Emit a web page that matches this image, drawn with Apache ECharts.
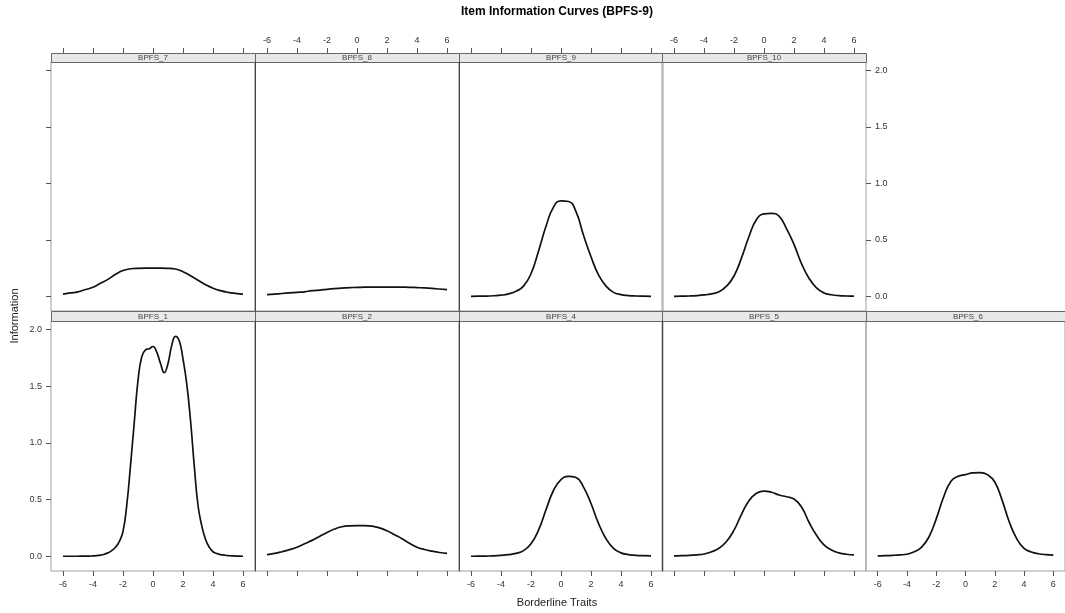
<!DOCTYPE html>
<html>
<head>
<meta charset="utf-8">
<title>Item Information Curves (BPFS-9)</title>
<script src="https://cdn.jsdelivr.net/npm/echarts@6/dist/echarts.min.js"></script>
<style>
  html, body { margin: 0; padding: 0; background: #fff; }
  #chart { width: 1065px; height: 613px; }
</style>
</head>
<body>
<div id="chart"></div>
<script>
// trait values, step 0.5 (BPFS_1 uses a finer 0.25 grid because of its two peaks)
var theta = [-6,-5.5,-5,-4.5,-4,-3.5,-3,-2.5,-2,-1.5,-1,-0.5,0,0.5,1,1.5,2,2.5,3,3.5,4,4.5,5,5.5,6];
var theta1 = [-6,-5.75,-5.5,-5.25,-5,-4.75,-4.5,-4.25,-4,-3.75,-3.5,-3.25,-3,-2.75,-2.5,-2.25,-2,-1.75,-1.5,-1.25,-1,-0.75,-0.5,-0.25,
              0,0.25,0.5,0.75,1,1.25,1.5,1.75,2,2.25,2.5,2.75,3,3.25,3.5,3.75,4,4.25,4.5,4.75,5,5.25,5.5,5.75,6];

// item information
var bpfs1 = [0,0,0,0,0,0.001,0.001,0.002,0.003,0.005,0.01,0.018,0.03,0.05,0.08,0.13,0.22,0.45,0.8,1.18,1.55,1.76,1.82,1.83,
             1.85,1.8,1.7,1.62,1.7,1.86,1.94,1.9,1.74,1.52,1.2,0.8,0.45,0.27,0.15,0.08,0.04,0.025,0.015,0.01,0.006,0.004,0.002,0.001,0];
var bpfs2 = [0.015,0.025,0.04,0.058,0.08,0.11,0.14,0.175,0.21,0.24,0.26,0.268,0.27,0.27,0.265,0.25,0.225,0.19,0.155,0.115,0.08,0.06,0.045,0.033,0.025];
var bpfs4 = [0,0.001,0.002,0.004,0.008,0.014,0.025,0.05,0.11,0.23,0.41,0.58,0.675,0.705,0.695,0.61,0.465,0.29,0.155,0.07,0.03,0.015,0.008,0.005,0.004];
var bpfs5 = [0.003,0.005,0.008,0.013,0.02,0.04,0.07,0.13,0.23,0.37,0.49,0.555,0.575,0.565,0.54,0.525,0.505,0.435,0.3,0.185,0.1,0.055,0.03,0.018,0.012];
var bpfs6 = [0.003,0.005,0.008,0.012,0.018,0.04,0.08,0.17,0.33,0.52,0.66,0.705,0.72,0.735,0.738,0.72,0.655,0.495,0.3,0.155,0.07,0.038,0.022,0.014,0.01];
var bpfs7 = [0.02,0.03,0.04,0.06,0.08,0.115,0.15,0.195,0.228,0.244,0.248,0.249,0.249,0.249,0.248,0.242,0.218,0.182,0.142,0.103,0.072,0.05,0.035,0.026,0.02];
var bpfs8 = [0.015,0.02,0.025,0.03,0.035,0.04,0.05,0.055,0.062,0.068,0.073,0.077,0.079,0.081,0.082,0.082,0.082,0.082,0.081,0.08,0.077,0.074,0.07,0.065,0.06];
var bpfs9 = [0,0.001,0.002,0.005,0.01,0.022,0.045,0.09,0.2,0.4,0.62,0.79,0.845,0.84,0.75,0.54,0.35,0.19,0.09,0.035,0.015,0.007,0.003,0.001,0];
var bpfs10 = [0,0.001,0.003,0.006,0.012,0.022,0.04,0.09,0.18,0.34,0.53,0.68,0.73,0.735,0.71,0.6,0.46,0.29,0.16,0.075,0.03,0.014,0.006,0.003,0.001];

var xTicks = [-6,-4,-2,0,2,4,6];
var yTicks = [0,0.5,1,1.5,2];

// row 0 = top row, row 1 = bottom row
var panels = [
  {name: 'BPFS_7',  x: theta,  y: bpfs7,  row: 0, col: 0},
  {name: 'BPFS_8',  x: theta,  y: bpfs8,  row: 0, col: 1},
  {name: 'BPFS_9',  x: theta,  y: bpfs9,  row: 0, col: 2},
  {name: 'BPFS_10', x: theta,  y: bpfs10, row: 0, col: 3},
  {name: 'BPFS_1',  x: theta1, y: bpfs1,  row: 1, col: 0},
  {name: 'BPFS_2',  x: theta,  y: bpfs2,  row: 1, col: 1},
  {name: 'BPFS_4',  x: theta,  y: bpfs4,  row: 1, col: 2},
  {name: 'BPFS_5',  x: theta,  y: bpfs5,  row: 1, col: 3},
  {name: 'BPFS_6',  x: theta,  y: bpfs6,  row: 1, col: 4}
];

var colLeft = [51, 255, 459, 662, 866];
var panelW = 204;
var stripTop = [53, 311];
var stripH = [9, 10];
var plotTop = [62, 321];
var plotH = [249, 250];

var tickColor = '#555';
var labelFont = {fontSize: 9, color: '#333', fontFamily: 'Liberation Sans, Arial, sans-serif'};

var grids = [], xAxes = [], yAxes = [], series = [], graphics = [];

panels.forEach(function (p, i) {
  grids.push({
    left: colLeft[p.col], top: plotTop[p.row], width: panelW, height: plotH[p.row],
    show: true, borderColor: '#a0a0a0', borderWidth: 1, backgroundColor: 'transparent'
  });

  var xLab = (p.row === 0 && p.col % 2 === 1) || (p.row === 1 && p.col % 2 === 0);
  xAxes.push({
    gridIndex: i, type: 'value', min: -6.8, max: 6.8,
    position: p.row === 0 ? 'top' : 'bottom',
    offset: p.row === 0 ? stripH[0] : 0,
    axisLine: {show: false, onZero: false},
    splitLine: {show: false},
    axisTick: {show: true, customValues: xTicks, length: 5, lineStyle: {color: tickColor}},
    axisLabel: Object.assign({show: xLab, customValues: xTicks, margin: p.row === 0 ? 8 : 9}, labelFont)
  });

  var yLeft = p.col === 0;
  var yRight = (p.row === 0 && p.col === 3) || (p.row === 1 && p.col === 4);
  var yLab = (p.row === 1 && p.col === 0) || (p.row === 0 && p.col === 3);
  yAxes.push({
    gridIndex: i, type: 'value', min: -0.13, max: 2.075,
    position: yRight ? 'right' : 'left',
    // inner panel edges are drawn darker, as in the original lattice plot
    axisLine: {show: p.col > 0 && !yRight, onZero: false, lineStyle: {color: '#444', width: 1}},
    splitLine: {show: false},
    axisTick: {show: yLeft || yRight, customValues: yTicks, length: 5, lineStyle: {color: tickColor}},
    axisLabel: Object.assign({
      show: yLab, customValues: yTicks, margin: 9,
      formatter: function (v) { return v.toFixed(1); }
    }, labelFont)
  });

  series.push({
    name: p.name, type: 'line', xAxisIndex: i, yAxisIndex: i,
    data: p.x.map(function (t, k) { return [t, p.y[k]]; }),
    showSymbol: false, smooth: 0.5,
    lineStyle: {color: '#111', width: 1.7},
    silent: true
  });

  // strip with the item name
  graphics.push({
    type: 'rect',
    shape: {x: colLeft[p.col] + 0.5, y: stripTop[p.row] + 0.5, width: panelW, height: stripH[p.row]},
    style: {fill: '#e8e8e8', stroke: '#666', lineWidth: 1}
  });
  graphics.push({
    type: 'text',
    x: colLeft[p.col] + panelW / 2, y: stripTop[p.row] + stripH[p.row] / 2 + 0.5,
    style: {text: p.name, align: 'center', verticalAlign: 'middle',
            font: '8px Liberation Sans, Arial, sans-serif', fill: '#444'}
  });
});

graphics.push({
  type: 'text', x: 557, y: 12,
  style: {text: 'Item Information Curves (BPFS-9)', align: 'center', verticalAlign: 'middle',
          font: 'bold 12px Liberation Sans, Arial, sans-serif', fill: '#000'}
});
graphics.push({
  type: 'text', x: 557, y: 603,
  style: {text: 'Borderline Traits', align: 'center', verticalAlign: 'middle',
          font: '11px Liberation Sans, Arial, sans-serif', fill: '#222'}
});
graphics.push({
  type: 'text', x: 15, y: 316, rotation: Math.PI / 2,
  style: {text: 'Information', align: 'center', verticalAlign: 'middle',
          font: '11px Liberation Sans, Arial, sans-serif', fill: '#222'}
});

var chart = echarts.init(document.getElementById('chart'));
chart.setOption({
  animation: false,
  grid: grids,
  xAxis: xAxes,
  yAxis: yAxes,
  series: series,
  graphic: graphics
});
</script>
</body>
</html>
